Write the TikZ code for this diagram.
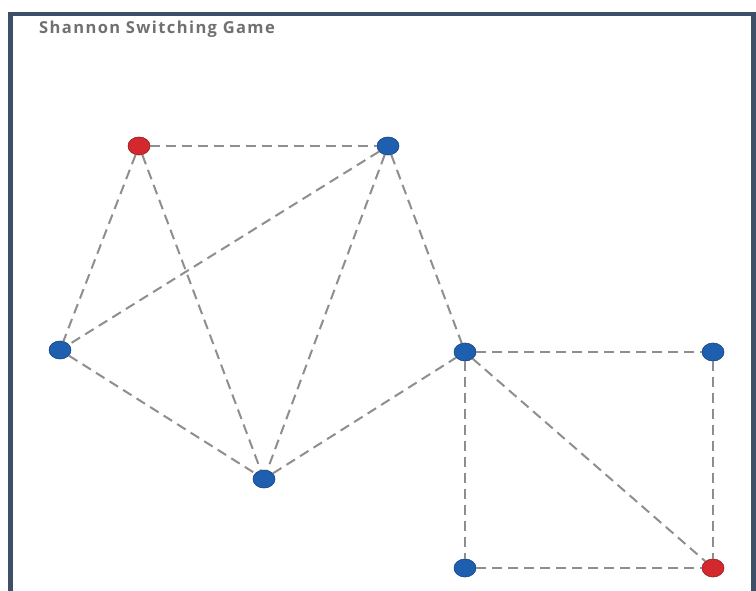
\documentclass[tikz,border=0pt]{standalone}
\usepackage{fontspec}
\setsansfont{Open Sans}
\newfontfamily\titlefont[LetterSpace=8.5]{Open Sans}
\definecolor{frame}{HTML}{3E5068}
\definecolor{nblue}{HTML}{1F5FB0}
\definecolor{nred}{HTML}{D2282E}
\definecolor{edge}{HTML}{8E8E8E}
\definecolor{title}{HTML}{707070}
\usetikzlibrary{shapes.geometric}
\tikzset{
  vtx/.style={ellipse, minimum width=22pt, minimum height=18pt, inner sep=0pt, draw=#1!70!black, line width=0.6pt, fill=#1},
  vtx/.default=nblue,
  link/.style={draw=edge, line width=2pt, dash pattern=on 10pt off 6pt},
}
\begin{document}
\begin{tikzpicture}[x=1pt,y=-1pt]
\useasboundingbox (0,0) rectangle (756,590);
\begin{scope}
\clip (0,0) rectangle (756,590);
\draw[frame, line width=4.5pt] (10.5,14) rectangle (753.5,620);
\end{scope}
\node[anchor=west, text=title, inner sep=0pt, font=\titlefont\bfseries\fontsize{16.5}{18}\selectfont] (t) at (39,29) {Shannon Switching Game};
\node[vtx=nred] (a) at (139,146) {};
\node[vtx] (b) at (388,146) {};
\node[vtx] (c) at (60,350) {};
\node[vtx] (d) at (465,352) {};
\node[vtx] (e) at (713,352) {};
\node[vtx] (f) at (264,479) {};
\node[vtx] (g) at (465,568) {};
\node[vtx=nred] (h) at (713,568) {};
\foreach \u/\v in {a/b,a/c,a/f,b/c,b/f,b/d,c/f,f/d,d/e,d/g,d/h,e/h,g/h}
  \path[link] (\u) -- (\v);
\end{tikzpicture}
\end{document}
